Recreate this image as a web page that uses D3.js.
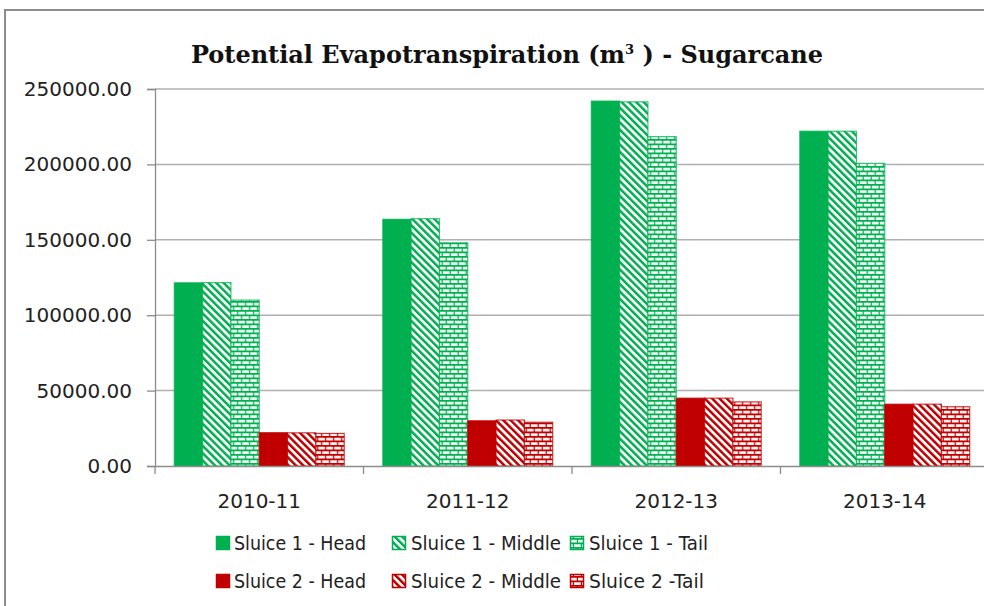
<!DOCTYPE html>
<html>
<head>
<meta charset="utf-8">
<script src="https://cdn.jsdelivr.net/npm/d3@7"></script>
<style>
  html, body { margin: 0; background: #fff; overflow: hidden; }
  svg { display: block; }
</style>
</head>
<body>
<script>
const years = ["2010-11", "2011-12", "2012-13", "2013-14"];
const seriesNames = ["Sluice 1 - Head", "Sluice 1 - Middle", "Sluice 1 - Tail",
                     "Sluice 2 - Head", "Sluice 2 - Middle", "Sluice 2 -Tail"];
const s1Head   = [121500, 163600, 242000, 222000];
const s1Middle = [121600, 164000, 241500, 222000];
const s1Tail   = [110000, 148000, 218400, 200700];
const s2Head   = [22100, 30000, 45000, 41000];
const s2Middle = [22000, 30500, 45000, 41000];
const s2Tail   = [21600, 29000, 42500, 39300];
const yTicks = [0, 50000, 100000, 150000, 200000, 250000];

const values = [s1Head, s1Middle, s1Tail, s2Head, s2Middle, s2Tail];
const green = "#00b050", red = "#c00000";
const colors = [green, green, green, red, red, red];
const fills = ["solid", "diag", "brick", "solid", "diag", "brick"];

const width = 984, height = 606;
const svg = d3.select("body").append("svg")
    .attr("width", width)
    .attr("height", height);

const defs = svg.append("defs");
function addPatterns(name, c) {
  // wide downward diagonal
  const d = defs.append("pattern")
      .attr("id", "diag-" + name)
      .attr("patternUnits", "userSpaceOnUse")
      .attr("patternTransform", "rotate(-45)")
      .attr("width", 5.2).attr("height", 10);
  d.append("rect").attr("width", 5.2).attr("height", 10).attr("fill", "#fff");
  d.append("rect").attr("width", 2.5).attr("height", 10).attr("fill", c);
  // horizontal brick
  const b = defs.append("pattern")
      .attr("id", "brick-" + name)
      .attr("patternUnits", "userSpaceOnUse")
      .attr("width", 8).attr("height", 9);
  b.append("rect").attr("width", 8).attr("height", 9).attr("fill", c);
  b.append("path")
      .attr("d", "M0,1.2 h2.8 v2.8 h-2.8 z M4,1.2 h4 v2.8 h-4 z M0,5.7 h6.8 v2.8 h-6.8 z")
      .attr("fill", "#fff").attr("fill-opacity", 0.95);
}
addPatterns("g", green);
addPatterns("r", red);

function fillFor(i) {
  const k = i < 3 ? "g" : "r";
  if (fills[i] === "solid") return colors[i];
  return `url(#${fills[i]}-${k})`;
}

// outer chart frame (only top and left edges are inside the picture)
svg.append("path")
    .attr("d", "M5,620 V10 H984")
    .attr("fill", "none")
    .attr("stroke", "#8c8c8c")
    .attr("stroke-width", 2);

const title = svg.append("text")
    .attr("x", 507).attr("y", 63)
    .attr("text-anchor", "middle")
    .style("font", "bold 24px 'DejaVu Serif', serif")
    .attr("fill", "#111");
title.append("tspan").text("Potential Evapotranspiration (m");
title.append("tspan").attr("dy", -9).style("font-size", "13px").text("3");
title.append("tspan").attr("dy", 9).text(" ) - Sugarcane");

const x0 = d3.scaleBand()
    .domain(years)
    .range([155, 989])
    .paddingInner(0.185)
    .paddingOuter(0.0925);

const x1 = d3.scaleBand()
    .domain(d3.range(seriesNames.length))
    .range([0, x0.bandwidth()]);

const y = d3.scaleLinear()
    .domain([0, 250000])
    .range([466, 89]);

// gridlines
svg.append("g")
  .selectAll("line")
  .data(yTicks.slice(1))
  .join("line")
    .attr("x1", 155).attr("x2", 989)
    .attr("y1", d => y(d)).attr("y2", d => y(d))
    .attr("stroke", "#b0b0b0")
    .attr("stroke-width", 1.5);

// bars
const groups = svg.append("g")
  .selectAll("g")
  .data(years)
  .join("g")
    .attr("transform", d => `translate(${x0(d)},0)`);

groups.selectAll("rect")
  .data((yr, j) => values.map((v, i) => ({i, v: v[j]})))
  .join("rect")
    .attr("x", d => x1(d.i))
    .attr("y", d => y(d.v))
    .attr("width", x1.bandwidth())
    .attr("height", d => y(0) - y(d.v))
    .attr("fill", d => fillFor(d.i))
    .attr("stroke", d => colors[d.i])
    .attr("stroke-opacity", 0.75)
    .attr("stroke-width", 1.2);

// y axis
const yAxis = svg.append("g")
    .attr("transform", "translate(155,0)")
    .call(d3.axisLeft(y).tickValues(yTicks).tickFormat(d3.format(".2f")).tickSize(8).tickPadding(15));
yAxis.select(".domain").attr("stroke", "#8c8c8c").attr("stroke-width", 1.3);
yAxis.selectAll(".tick line").attr("stroke", "#8c8c8c").attr("stroke-width", 1.3);
yAxis.selectAll("text")
    .style("font", "20px 'DejaVu Sans', sans-serif")
    .attr("fill", "#222");

// x axis
const xAxis = svg.append("g")
    .attr("transform", "translate(0,466)")
    .call(d3.axisBottom(x0).tickSize(0).tickPadding(28));
xAxis.select(".domain").attr("stroke", "#8c8c8c").attr("stroke-width", 1.3);
xAxis.selectAll("text")
    .style("font", "20px 'DejaVu Sans', sans-serif")
    .attr("fill", "#222");
svg.append("g")
  .selectAll("line")
  .data(years)
  .join("line")
    .attr("x1", d => x0(d) - x0.step() * x0.paddingInner() / 2)
    .attr("x2", d => x0(d) - x0.step() * x0.paddingInner() / 2)
    .attr("y1", 466).attr("y2", 474)
    .attr("stroke", "#8c8c8c")
    .attr("stroke-width", 1.3);

// legend
const legX = [216, 392, 570];
const legY = [543, 581];
const legW = [132, 150, 119];
const leg = svg.append("g")
  .selectAll("g")
  .data(seriesNames)
  .join("g")
    .attr("transform", (d, i) => `translate(${legX[i % 3]},${legY[Math.floor(i / 3)]})`);
leg.append("rect")
    .attr("x", 0.5).attr("y", -6.5)
    .attr("width", 13).attr("height", 13)
    .attr("fill", (d, i) => fillFor(i))
    .attr("stroke", (d, i) => colors[i])
    .attr("stroke-width", 1.5);
leg.append("text")
    .attr("x", (d, i) => i % 3 === 0 ? 18 : 19)
    .attr("dy", "0.36em")
    .attr("textLength", (d, i) => legW[i % 3] - (i === 5 ? 4 : 0))
    .attr("lengthAdjust", "spacingAndGlyphs")
    .style("font", "20px 'DejaVu Sans', sans-serif")
    .attr("fill", "#222")
    .text(d => d);
</script>
</body>
</html>
